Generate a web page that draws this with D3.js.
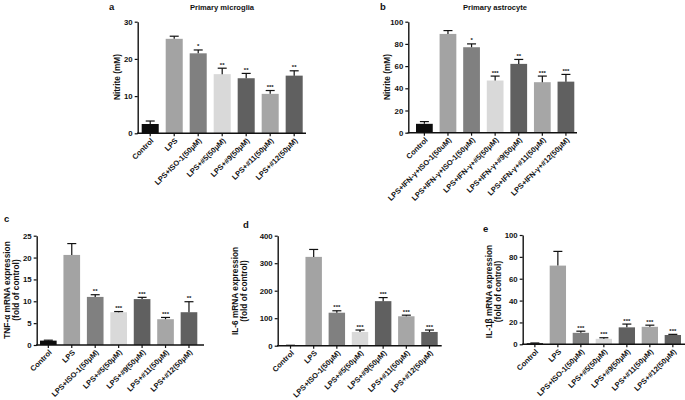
<!DOCTYPE html>
<html><head><meta charset="utf-8">
<script src="https://cdn.jsdelivr.net/npm/d3@7"></script>
<style>
html,body{margin:0;padding:0;background:#fff;}
svg text{font-family:"Liberation Sans",Arial,sans-serif;font-weight:bold;fill:#111;}
</style></head>
<body>
<svg id="chart" width="685" height="400"></svg>
<script>
// ---------- data ----------
const catsMicro = ["Control","LPS","LPS+ISO-1(50μM)","LPS+#5(50μM)","LPS+#9(50μM)","LPS+#11(50μM)","LPS+#12(50μM)"];
const catsAstro = ["Control","LPS+IFN-γ+ISO-1(50uM)","LPS+IFN-γ+ISO-1(50μM)","LPS+IFN-γ+#5(50μM)","LPS+IFN-γ+#9(50μM)","LPS+IFN-γ+#11(50μM)","LPS+IFN-γ+#12(50μM)"];
const barColors = ["#0d0d0d","#a3a3a3","#808080","#d9d9d9","#606060","#a6a6a6","#606060"];

const nitriteMicro = [2.5, 25.4, 21.5, 15.9, 14.8, 10.6, 15.5];
const nitriteMicroErr = [0.8, 0.7, 0.9, 1.6, 1.3, 0.9, 1.3];
const nitriteMicroSig = ["", "", "*", "**", "**", "***", "**"];

const nitriteAstro = [8, 89, 77, 47, 62, 45.5, 46];
const nitriteAstroErr = [2, 3, 3, 4, 4, 5.5, 6.5];
const nitriteAstroSig = ["", "", "*", "***", "**", "***", "***"];

const tnfVals = [1, 20.6, 11, 7.5, 10.5, 5.9, 7.5];
const tnfErr = [0.1, 2.6, 0.5, 0.15, 0.4, 0.4, 2.4];
const tnfSig = ["", "", "**", "***", "***", "***", "**"];

const il6Vals = [1, 323, 120, 50, 162, 107, 50];
const il6Err = [0.5, 27, 7, 7, 13, 4, 7];
const il6Sig = ["", "", "***", "***", "***", "***", "***"];

const il1bVals = [1, 72, 10.5, 5, 15.5, 16, 8.5];
const il1bErr = [0.2, 13, 1.5, 1, 3, 1.5, 0.6];
const il1bSig = ["", "", "***", "***", "***", "***", "***"];

const ticksMicro = [0, 10, 20, 30];
const ticksAstro = [0, 20, 40, 60, 80, 100];
const ticksTnf = [0, 5, 10, 15, 20, 25];
const ticksIl6 = [0, 100, 200, 300, 400];
const ticksIl1b = [0, 20, 40, 60, 80, 100];

// ---------- drawing ----------
const svg = d3.select("#chart");

function panel(o) {
  const g = svg.append("g");
  const y = d3.scaleLinear().domain([0, o.ticks[o.ticks.length - 1]]).range([o.y0, o.y1]);
  const x = d3.scaleBand().domain(o.cats).range([o.b0, o.b1]).paddingInner(0.29).paddingOuter(0);

  // bars
  g.selectAll("rect.bar").data(o.vals).enter().append("rect")
    .attr("x", (d, i) => x(o.cats[i]))
    .attr("width", x.bandwidth())
    .attr("y", d => y(d))
    .attr("height", d => o.y0 - y(d))
    .attr("fill", (d, i) => barColors[i]);

  // error bars (upper)
  o.vals.forEach((v, i) => {
    const cx = x(o.cats[i]) + x.bandwidth() / 2;
    const top = y(v + o.err[i]);
    g.append("line").attr("x1", cx).attr("x2", cx).attr("y1", y(v)).attr("y2", top)
      .attr("stroke", "#111").attr("stroke-width", 1.2);
    g.append("line").attr("x1", cx - 4.5).attr("x2", cx + 4.5).attr("y1", top).attr("y2", top)
      .attr("stroke", "#111").attr("stroke-width", 1.2);
    if (o.sig[i]) {
      g.append("text").attr("x", cx).attr("y", top - 1.5)
        .attr("text-anchor", "middle").style("font-size", "6px").text(o.sig[i]);
    }
  });

  // y axis
  const ya = g.append("g").attr("transform", `translate(${o.x0},0)`)
    .call(d3.axisLeft(y).tickValues(o.ticks).tickSize(3).tickPadding(2).tickSizeOuter(0));
  ya.select(".domain").attr("stroke", "#111").attr("stroke-width", 1.4);
  ya.selectAll(".tick line").attr("stroke", "#111").attr("stroke-width", 1.2);
  ya.selectAll(".tick text").style("font-size", "7.8px").style("font-family", "Liberation Sans, Arial, sans-serif").style("font-weight", "bold");

  // x axis line
  g.append("line").attr("x1", o.x0 - 0.7).attr("x2", o.x1).attr("y1", o.y0).attr("y2", o.y0)
    .attr("stroke", "#111").attr("stroke-width", 1.4);
  o.cats.forEach((c, i) => {
    const cx = x(c) + x.bandwidth() / 2;
    g.append("line").attr("x1", cx).attr("x2", cx).attr("y1", o.y0).attr("y2", o.y0 + 3)
      .attr("stroke", "#111").attr("stroke-width", 1.2);
    g.append("text").attr("text-anchor", "end")
      .attr("transform", `translate(${cx + 2},${o.y0 + 6}) rotate(-45)`)
      .attr("dy", "0.35em")
      .style("font-size", "7.5px").text(c);
  });

  // y title
  const t = g.append("text").attr("text-anchor", "middle")
    .attr("transform", `translate(${o.tx},${o.ty}) rotate(-90)`)
    .style("font-size", "8.3px");
  o.ytitle.forEach((line, k) => {
    t.append("tspan").attr("x", 0).attr("dy", k === 0 ? 0 : "1.1em").text(line);
  });

  // panel letter
  g.append("text").attr("x", o.lx).attr("y", o.ly).style("font-size", "9.5px").text(o.letter);
  if (o.title) {
    g.append("text").attr("x", o.titleX).attr("y", 9.5).attr("text-anchor", "middle")
      .style("font-size", "7.6px").text(o.title);
  }
}

panel({cats: catsMicro, vals: nitriteMicro, err: nitriteMicroErr, sig: nitriteMicroSig, ticks: ticksMicro,
  x0: 137.7, x1: 306, b0: 141.7, b1: 302.7, y0: 133.3, y1: 21.7,
  ytitle: ["Nitrite (mM)"], tx: 120, ty: 77, letter: "a", lx: 109, ly: 10,
  title: "Primary microglia", titleX: 222});

panel({cats: catsAstro, vals: nitriteAstro, err: nitriteAstroErr, sig: nitriteAstroSig, ticks: ticksAstro,
  x0: 408.3, x1: 577, b0: 416, b1: 574.3, y0: 132.7, y1: 21.7,
  ytitle: ["Nitrite (mM)"], tx: 389.5, ty: 77, letter: "b", lx: 380, ly: 10,
  title: "Primary astrocyte", titleX: 495});

panel({cats: catsMicro, vals: tnfVals, err: tnfErr, sig: tnfSig, ticks: ticksTnf,
  x0: 36.7, x1: 204, b0: 40, b1: 197.3, y0: 345, y1: 235.7,
  ytitle: ["TNF-α mRNA expression", "(fold of control)"], tx: 10, ty: 290, letter: "c", lx: 4, ly: 222});

panel({cats: catsMicro, vals: il6Vals, err: il6Err, sig: il6Sig, ticks: ticksIl6,
  x0: 277.7, x1: 441.7, b0: 282.3, b1: 437.7, y0: 345.7, y1: 235.7,
  ytitle: ["IL-6 mRNA expression", "(fold of control)"], tx: 238, ty: 291, letter: "d", lx: 243, ly: 228});

panel({cats: catsMicro, vals: il1bVals, err: il1bErr, sig: il1bSig, ticks: ticksIl1b,
  x0: 522.7, x1: 685, b0: 526.7, b1: 681, y0: 344.3, y1: 235,
  ytitle: ["IL-1β mRNA expression", "(fold of control)"], tx: 492, ty: 291.5, letter: "e", lx: 483, ly: 232});
</script>
</body></html>
